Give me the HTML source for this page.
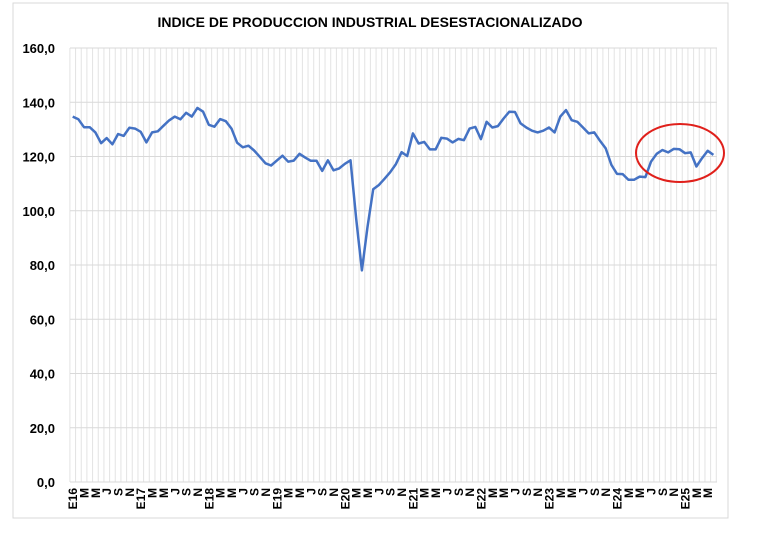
<!DOCTYPE html>
<html><head><meta charset="utf-8"><style>
html,body{margin:0;padding:0;background:#fff;}
svg{display:block;font-family:"Liberation Sans",Arial,sans-serif;}
</style></head><body>
<svg id="s" width="760" height="540" xmlns="http://www.w3.org/2000/svg">
<rect x="13" y="3" width="715" height="515" fill="#fff" stroke="#d9d9d9" stroke-width="1"/>
<text x="370" y="27" text-anchor="middle" font-size="14" font-weight="bold" fill="#000">INDICE DE PRODUCCION INDUSTRIAL DESESTACIONALIZADO</text>
<g id="grid"></g>
<g id="lab"></g>
<polyline id="ln" fill="none" stroke="#4472c4" stroke-width="2.5" stroke-linejoin="round"/>
<ellipse cx="680" cy="153" rx="44" ry="29" fill="none" stroke="#e0201b" stroke-width="2"/>
</svg>
<script>
var d=[134.7,133.7,130.8,130.8,128.9,124.9,126.8,124.5,128.3,127.6,130.6,130.3,129.1,125.2,128.9,129.3,131.3,133.3,134.7,133.7,136.1,134.7,137.9,136.5,131.7,131,133.8,133,130.3,125.1,123.4,124,122.2,119.9,117.5,116.7,118.5,120.3,118.1,118.5,121,119.6,118.4,118.4,114.7,118.6,114.9,115.6,117.3,118.6,97,78,94,107.9,109.5,111.8,114.2,117.2,121.6,120.2,128.5,124.8,125.4,122.6,122.6,126.9,126.6,125.2,126.5,126,130.3,130.9,126.4,132.8,130.7,131.2,134,136.5,136.4,132.2,130.7,129.5,128.9,129.5,130.7,128.9,134.7,137.1,133.4,132.8,130.7,128.5,128.9,125.8,123,116.9,113.6,113.5,111.4,111.4,112.6,112.4,118.1,121,122.4,121.5,122.8,122.7,121.2,121.5,116.3,119.4,122.1,120.6];
var NS="http://www.w3.org/2000/svg",g=document.getElementById('grid'),lb=document.getElementById('lab');
function el(t,a,p,tx){var e=document.createElementNS(NS,t);for(var k in a)e.setAttribute(k,a[k]);if(tx!=null)e.textContent=tx;p.appendChild(e);return e;}
var X0=72.7,DX=5.67,Y0=482,SY=434/160;
for(var i=0;i<115;i++){var x=X0-2.8+i*DX;el('line',{x1:x,x2:x,y1:48,y2:482,stroke:'#e3e3e3','stroke-width':1},g);}
for(var v=0;v<=160;v+=20){var y=Y0-v*SY;el('line',{x1:70,x2:717,y1:y,y2:y,stroke:'#d9d9d9','stroke-width':1},g);
el('text',{x:55,y:y+5,'text-anchor':'end','font-size':13,'font-weight':'bold',fill:'#000'},lb,v+',0');}
var ms=['E','M','M','J','S','N'],pts=[];
for(var i=0;i<d.length;i++){var x=X0+i*DX;pts.push(x.toFixed(1)+','+(Y0-d[i]*SY).toFixed(1));
if(i%2==0){var m=(i%12)/2,t=m==0?'E'+(16+Math.floor(i/12)):ms[m];
el('text',{x:0,y:0,'font-size':12,'font-weight':'bold','text-anchor':'end',fill:'#000',transform:'translate('+(x+4.5)+',488) rotate(-90)'},lb,t);}}
document.getElementById('ln').setAttribute('points',pts.join(' '));
</script>
</body></html>
